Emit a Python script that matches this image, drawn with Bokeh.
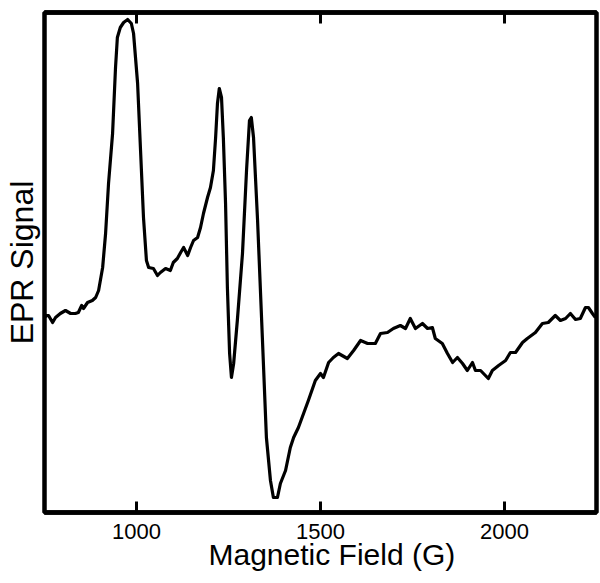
from bokeh.plotting import figure
from bokeh.models import FixedTicker, LinearAxis, Range1d, Title
from bokeh.embed import file_html
from bokeh.resources import INLINE

# Magnetic field (G) and EPR signal (arbitrary units)
field = [752, 757, 761, 772, 780, 793, 807, 821, 834, 842, 851,
         856, 867, 880, 889, 897, 908, 916, 924, 935, 943,
         948, 956, 965, 976, 986, 992, 1003, 1011, 1019, 1027,
         1033, 1046, 1057, 1065, 1079, 1092, 1100, 1111, 1120, 1128,
         1139, 1147, 1155, 1166, 1174, 1182, 1193, 1201, 1209, 1215,
         1220, 1225, 1231, 1236, 1242, 1247, 1253, 1258, 1264, 1274,
         1288, 1299, 1307, 1312, 1318, 1329, 1342, 1353, 1364, 1372,
         1383, 1391, 1405, 1418, 1427, 1440, 1454, 1467, 1486, 1500,
         1508, 1522, 1535, 1549, 1573, 1590, 1609, 1628, 1649, 1663,
         1682, 1698, 1717, 1731, 1744, 1758, 1777, 1791, 1804, 1812,
         1831, 1845, 1859, 1872, 1886, 1899, 1913, 1921, 1935, 1956,
         1967, 1984, 2003, 2016, 2030, 2049, 2062, 2084, 2103, 2119,
         2138, 2152, 2166, 2179, 2193, 2206, 2220, 2228, 2239, 2247]

signal = [-3, -2, -2, -9, -4, 0, 3, 0, 0, 1, 8,
          5, 11, 13, 16, 23, 46, 80, 130, 180, 246,
          276, 286, 291, 294, 290, 280, 230, 163, 96, 53,
          46, 45, 38, 41, 45, 43, 51, 55, 61, 66,
          58, 66, 73, 76, 86, 100, 116, 126, 143, 176,
          210, 225, 216, 176, 110, 26, -40, -64, -50, -7,
          60, 143, 193, 196, 176, 93, -24, -124, -167, -184,
          -184, -170, -157, -134, -124, -114, -100, -87, -67, -60,
          -64, -49, -44, -40, -45, -37, -27, -30, -30, -20,
          -19, -15, -12, -15, -5, -15, -10, -15, -14, -25,
          -30, -40, -49, -44, -50, -57, -49, -57, -57, -65,
          -57, -52, -47, -39, -39, -29, -25, -19, -10, -9,
          -2, -7, -5, 0, -6, -5, 6, 6, 0, -4]

x_ticks = [1000, 1500, 2000]
x_label = "Magnetic Field (G)"
y_label = "EPR Signal"

FONT = "Liberation Sans"

p = figure(frame_width=552, frame_height=500,
           min_border_left=44, min_border_right=4,
           min_border_top=12, min_border_bottom=60,
           x_range=Range1d(750, 2250), y_range=Range1d(-199, 301),
           output_backend="svg", toolbar_location=None)

p.line(field, signal, line_color="black", line_width=3.2, line_join="round")

p.grid.visible = False
p.background_fill_color = "white"
p.border_fill_color = "white"
p.outline_line_color = "black"
p.outline_line_width = 4.5
p.outline_line_alpha = 1.0

# bottom axis
xa = p.xaxis[0]
xa.ticker = FixedTicker(ticks=x_ticks)
xa.minor_tick_line_color = None
xa.major_tick_in = 11
xa.major_tick_out = 0
xa.major_tick_line_width = 3
xa.major_tick_line_color = "black"
xa.axis_line_color = "black"
xa.axis_line_width = 4.5
xa.major_label_text_font = FONT
xa.major_label_text_font_size = "22px"
xa.major_label_text_color = "black"
xa.major_label_standoff = 11

# mirrored ticks on top, no labels
top = LinearAxis(ticker=FixedTicker(ticks=x_ticks))
top.minor_tick_line_color = None
top.major_tick_in = 11
top.major_tick_out = 0
top.major_tick_line_width = 3
top.major_tick_line_color = "black"
top.axis_line_color = "black"
top.axis_line_width = 4.5
top.major_label_text_font_size = "1px"
top.major_label_text_alpha = 0
top.major_label_standoff = 0
p.add_layout(top, "above")

# left axis: only its label
ya = p.yaxis[0]
ya.ticker = FixedTicker(ticks=[])
ya.minor_tick_line_color = None
ya.major_tick_line_color = None
ya.major_tick_in = 0
ya.major_tick_out = 0
ya.major_label_standoff = 0
ya.axis_line_color = None
ya.axis_label = y_label
ya.axis_label_text_font = FONT
ya.axis_label_text_font_size = "32px"
ya.axis_label_text_font_style = "normal"
ya.axis_label_text_color = "black"
ya.axis_label_standoff = 5

# x-axis title
xt = Title(text=x_label, align="left", offset=164, vertical_align="top",
           standoff=-7, text_font=FONT, text_font_size="30px",
           text_font_style="normal", text_color="black")
p.add_layout(xt, "below")

open("out.html", "w").write(file_html(p, INLINE))
